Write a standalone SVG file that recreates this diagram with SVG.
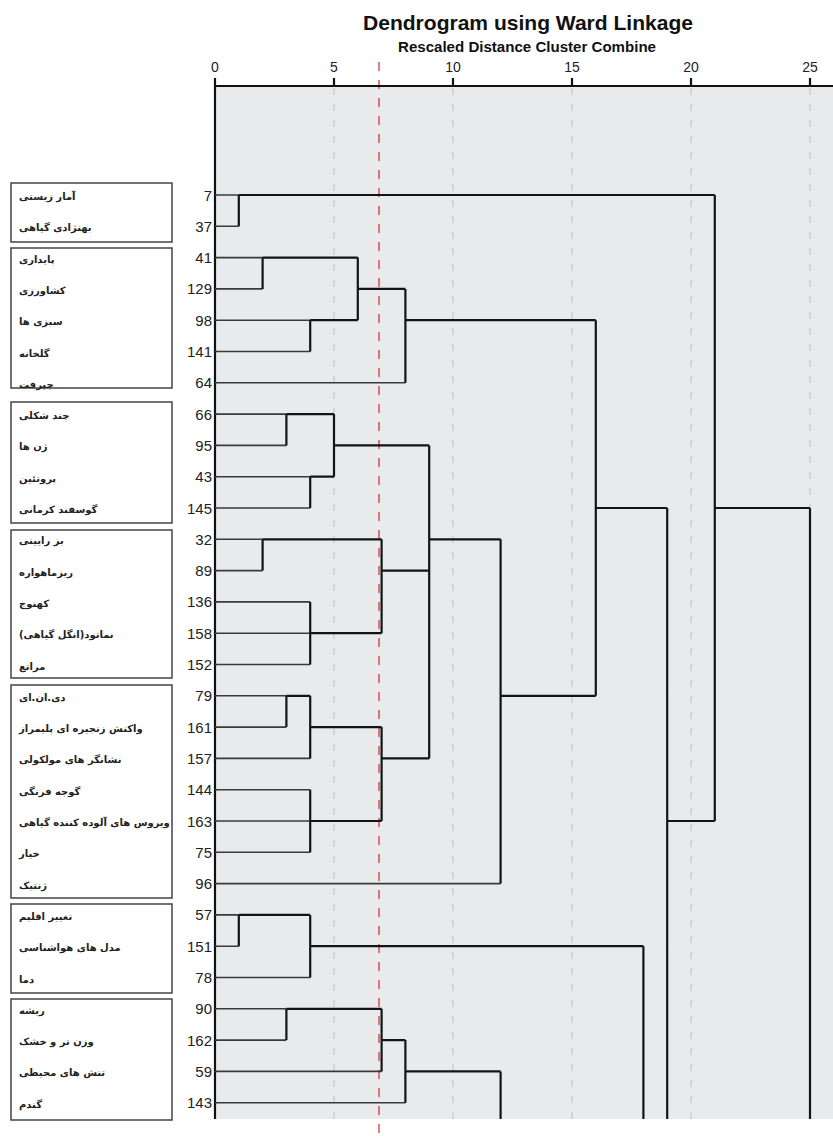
<svg xmlns="http://www.w3.org/2000/svg" width="833" height="1136" viewBox="0 0 833 1136">
<style>
.title{font-family:"Liberation Sans",Arial,sans-serif;font-size:21px;font-weight:bold;fill:#111}
.sub{font-family:"Liberation Sans",Arial,sans-serif;font-size:14px;font-weight:bold;fill:#111}
.tick{font-family:"Liberation Sans",Arial,sans-serif;font-size:14px;fill:#222;text-anchor:middle}
.num{font-family:"Liberation Sans",Arial,sans-serif;font-size:15px;fill:#222;text-anchor:end}
.fa{font-family:"DejaVu Sans","Noto Sans",sans-serif;font-size:10px;font-weight:bold;fill:#222;direction:rtl;text-anchor:end}
.box{fill:#fff;stroke:#444;stroke-width:1.5}
.grid{stroke:#c4c6c8;stroke-width:1.2;stroke-dasharray:7 9;fill:none}
.red{stroke:#d23a3a;stroke-width:1.3;stroke-dasharray:9 9;fill:none}
.leaf{stroke:#3a3a3a;stroke-width:1.6;fill:none}
.link{stroke:#141414;stroke-width:2.2;fill:none}
.axis{stroke:#111;stroke-width:2.2;fill:none}
</style>
<rect x="0" y="0" width="833" height="1136" fill="#ffffff"/>
<g id="title">
<text class="title" x="528" y="30" text-anchor="middle" textLength="330" lengthAdjust="spacingAndGlyphs">Dendrogram using Ward Linkage</text>
<text class="sub" x="527" y="52" text-anchor="middle" textLength="258" lengthAdjust="spacingAndGlyphs">Rescaled Distance Cluster Combine</text>
</g>
<g id="plot">
<rect x="215" y="86" width="618" height="1033" fill="#e8eaec"/>
<line class="grid" x1="334" y1="88" x2="334" y2="1119"/>
<line class="grid" x1="453" y1="88" x2="453" y2="1119"/>
<line class="grid" x1="572" y1="88" x2="572" y2="1119"/>
<line class="grid" x1="691" y1="88" x2="691" y2="1119"/>
<line class="grid" x1="810" y1="88" x2="810" y2="1119"/>
<line class="red" x1="379" y1="62" x2="379" y2="1136"/>
<path class="axis" d="M215 86H833M215 86V1119M215 78V86M334 78V86M453 78V86M572 78V86M691 78V86M810 78V86"/>
<text class="tick" x="215" y="72">0</text>
<text class="tick" x="334" y="72">5</text>
<text class="tick" x="453" y="72">10</text>
<text class="tick" x="572" y="72">15</text>
<text class="tick" x="691" y="72">20</text>
<text class="tick" x="810" y="72">25</text>
</g>
<g id="connectors">
<path class="leaf" d="M215 195H238.8M215 226.3H238.8M215 257.6H262.6M215 288.9H262.6M215 320.2H310.2M215 351.5H310.2M215 382.8H405.4M215 414.1H286.4M215 445.4H286.4M215 476.7H310.2M215 508H310.2M215 539.3H262.6M215 570.6H262.6M215 601.9H310.2M215 633.2H310.2M215 664.5H310.2M215 695.8H286.4M215 727.1H286.4M215 758.4H310.2M215 789.7H310.2M215 821H310.2M215 852.3H310.2M215 883.6H500.6M215 914.9H238.8M215 946.2H238.8M215 977.5H310.2M215 1008.8H286.4M215 1040.1H286.4M215 1071.4H381.6M215 1102.7H405.4"/>
<path class="link" d="M238.8 195V226.3M238.8 195H714.8
M262.6 257.6V288.9M262.6 257.6H357.8
M310.2 320.2V351.5M310.2 320.2H357.8
M357.8 257.6V320.2M357.8 288.9H405.4
M405.4 288.9V382.8M405.4 320.2H595.8
M286.4 414.1V445.4M286.4 414.1H334
M310.2 476.7V508M310.2 476.7H334
M334 414.1V476.7M334 445.4H429.2
M262.6 539.3V570.6M262.6 539.3H381.6
M310.2 601.9V664.5M310.2 633.2H381.6
M381.6 539.3V633.2M381.6 570.6H429.2
M286.4 695.8V727.1M286.4 695.8H310.2
M310.2 695.8V758.4M310.2 727.1H381.6
M310.2 789.7V852.3M310.2 821H381.6
M381.6 727.1V821M381.6 758.4H429.2
M429.2 445.4V758.4M429.2 539.3H500.6
M500.6 539.3V883.6M500.6 695.8H595.8
M595.8 320.2V695.8M595.8 508H667.2
M667.2 508V1119M667.2 821H714.8
M714.8 195V821M714.8 508H810
M810 508V1119
M238.8 914.9V946.2M238.8 914.9H310.2
M310.2 914.9V977.5M310.2 946.2H643.4
M643.4 946.2V1119
M286.4 1008.8V1040.1M286.4 1008.8H381.6
M381.6 1008.8V1071.4M381.6 1040.1H405.4
M405.4 1040.1V1102.7M405.4 1071.4H500.6
M500.6 1071.4V1119"/>
</g>
<g id="leaf-numbers">
<text class="num" x="212" y="200.5">7</text>
<text class="num" x="212" y="231.8">37</text>
<text class="num" x="212" y="263.1">41</text>
<text class="num" x="212" y="294.4">129</text>
<text class="num" x="212" y="325.7">98</text>
<text class="num" x="212" y="357">141</text>
<text class="num" x="212" y="388.3">64</text>
<text class="num" x="212" y="419.6">66</text>
<text class="num" x="212" y="450.9">95</text>
<text class="num" x="212" y="482.2">43</text>
<text class="num" x="212" y="513.5">145</text>
<text class="num" x="212" y="544.8">32</text>
<text class="num" x="212" y="576.1">89</text>
<text class="num" x="212" y="607.4">136</text>
<text class="num" x="212" y="638.7">158</text>
<text class="num" x="212" y="670">152</text>
<text class="num" x="212" y="701.3">79</text>
<text class="num" x="212" y="732.6">161</text>
<text class="num" x="212" y="763.9">157</text>
<text class="num" x="212" y="795.2">144</text>
<text class="num" x="212" y="826.5">163</text>
<text class="num" x="212" y="857.8">75</text>
<text class="num" x="212" y="889.1">96</text>
<text class="num" x="212" y="920.4">57</text>
<text class="num" x="212" y="951.7">151</text>
<text class="num" x="212" y="983">78</text>
<text class="num" x="212" y="1014.3">90</text>
<text class="num" x="212" y="1045.6">162</text>
<text class="num" x="212" y="1076.9">59</text>
<text class="num" x="212" y="1108.2">143</text>
</g>
<g id="group-1">
<rect class="box" x="11" y="183" width="161" height="59"/>
<text class="fa" x="19" y="200">آمار زیستی</text>
<text class="fa" x="19" y="231.3">بهنژادی گیاهی</text>
</g>
<g id="group-2">
<rect class="box" x="11" y="248" width="161" height="140"/>
<text class="fa" x="19" y="262.6">پایداری</text>
<text class="fa" x="19" y="293.9">کشاورزی</text>
<text class="fa" x="19" y="325.2">سبزی ها</text>
<text class="fa" x="19" y="356.5">گلخانه</text>
<text class="fa" x="19" y="387.8">جیرفت</text>
</g>
<g id="group-3">
<rect class="box" x="11" y="402" width="161" height="121"/>
<text class="fa" x="19" y="419.1">چند شکلی</text>
<text class="fa" x="19" y="450.4">ژن ها</text>
<text class="fa" x="19" y="481.7">پروتئین</text>
<text class="fa" x="19" y="513">گوسفند کرمانی</text>
</g>
<g id="group-4">
<rect class="box" x="11" y="530" width="161" height="148"/>
<text class="fa" x="19" y="544.3">بز رایینی</text>
<text class="fa" x="19" y="575.6">ریزماهواره</text>
<text class="fa" x="19" y="606.9">کهنوج</text>
<text class="fa" x="19" y="638.2">نماتود(انگل گیاهی)</text>
<text class="fa" x="19" y="669.5">مراتع</text>
</g>
<g id="group-5">
<rect class="box" x="11" y="685" width="161" height="213"/>
<text class="fa" x="19" y="700.8">دی.ان.ای</text>
<text class="fa" x="19" y="732.1">واکنش زنجیره ای پلیمراز</text>
<text class="fa" x="19" y="763.4">نشانگر های مولکولی</text>
<text class="fa" x="19" y="794.7">گوجه فرنگی</text>
<text class="fa" x="19" y="826">ویروس های آلوده کننده گیاهی</text>
<text class="fa" x="19" y="857.3">خیار</text>
<text class="fa" x="19" y="888.6">ژنتیک</text>
</g>
<g id="group-6">
<rect class="box" x="11" y="904" width="161" height="89"/>
<text class="fa" x="19" y="919.9">تغییر اقلیم</text>
<text class="fa" x="19" y="951.2">مدل های هواشناسی</text>
<text class="fa" x="19" y="982.5">دما</text>
</g>
<g id="group-7">
<rect class="box" x="11" y="999" width="161" height="121"/>
<text class="fa" x="19" y="1013.8">ریشه</text>
<text class="fa" x="19" y="1045.1">وزن تر و خشک</text>
<text class="fa" x="19" y="1076.4">تنش های محیطی</text>
<text class="fa" x="19" y="1107.7">گندم</text>
</g>
</svg>
